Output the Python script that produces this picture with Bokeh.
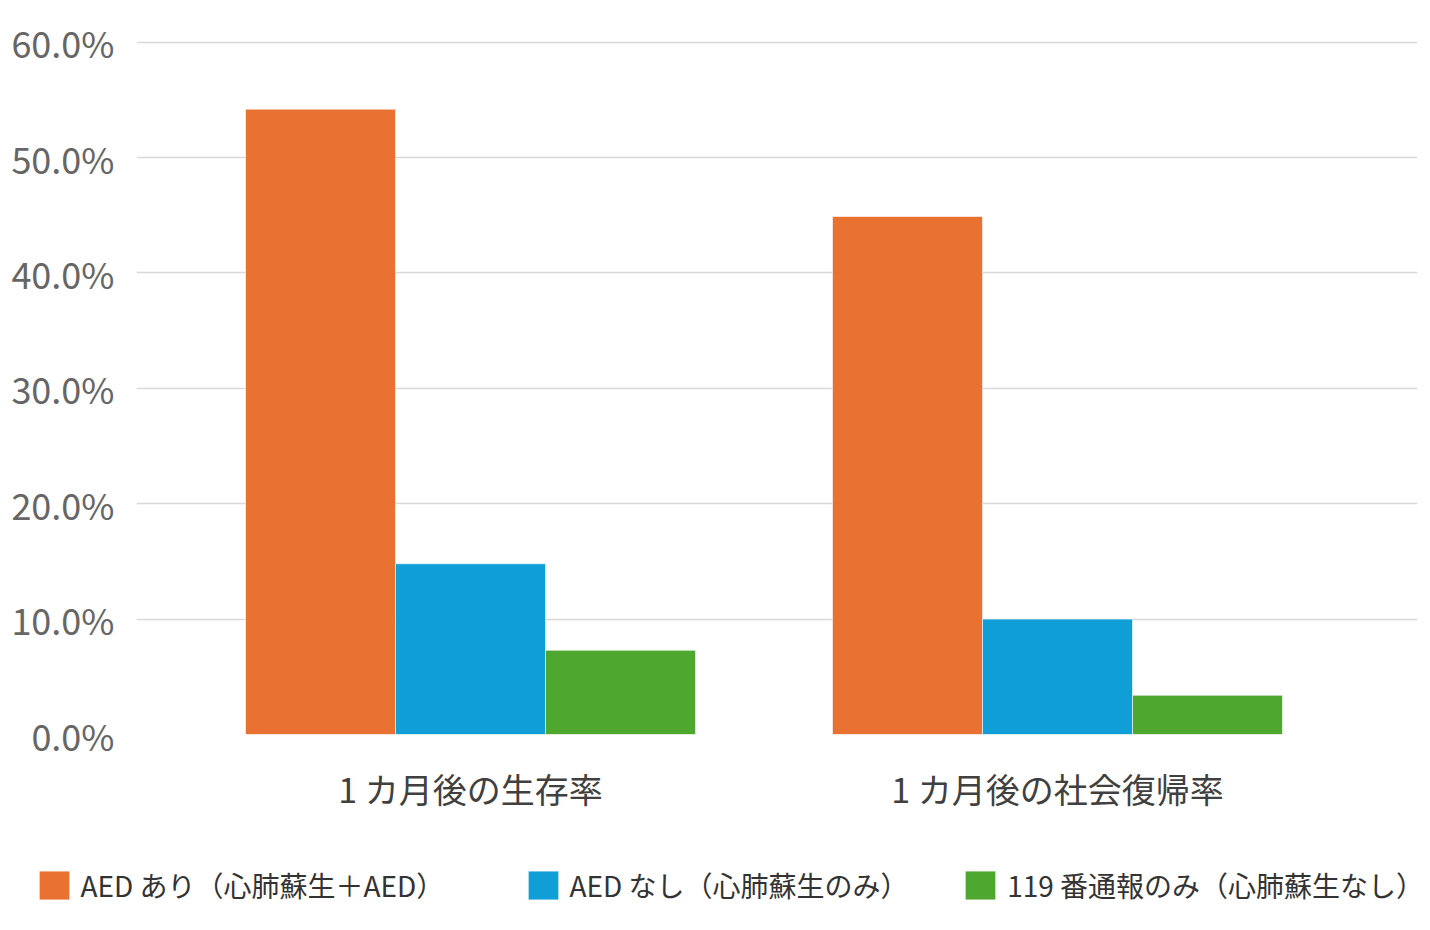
from bokeh.plotting import figure
from bokeh.models import ColumnDataSource, Range1d, FixedTicker, PrintfTickFormatter, Legend, LegendItem
from bokeh.embed import file_html
from bokeh.resources import INLINE

# ---- data ----
categories = ["1 カ月後の生存率", "1 カ月後の社会復帰率"]
series_names = ["AED あり（心肺蘇生＋AED）", "AED なし（心肺蘇生のみ）", "119 番通報のみ（心肺蘇生なし）"]
aed_yes = [54.2, 44.9]
aed_no = [14.8, 10.0]
call_only = [7.3, 3.4]
series_values = [aed_yes, aed_no, call_only]
colors = ["#E97132", "#0F9ED5", "#4EA72E"]
y_ticks = [0, 10, 20, 30, 40, 50, 60]

FONT = "Noto Sans CJK JP"
group_step = 3.913  # 3 bars + gap between groups (in bar widths)

p = figure(width=1422, height=824, output_backend="svg", toolbar_location=None,
           x_range=Range1d(-1.2267, 7.313), y_range=Range1d(0, 60.15),
           min_border_left=136, min_border_right=5, min_border_top=40, min_border_bottom=90)

sources = []
for s, vals in enumerate(series_values):
    xs = [g * group_step + s for g in range(len(categories))]
    src = ColumnDataSource(dict(x=xs, top=vals))
    sources.append(src)
    p.vbar(x="x", top="top", width=1, bottom=0, source=src,
           fill_color=colors[s], line_color="white", line_width=1, line_alpha=0.6)

# axes
p.outline_line_color = None
p.xgrid.grid_line_color = None
p.ygrid.grid_line_color = "#D9D9D9"
p.ygrid.grid_line_width = 1.3
p.ygrid.ticker = FixedTicker(ticks=y_ticks)

p.yaxis.ticker = FixedTicker(ticks=y_ticks)
p.yaxis.formatter = PrintfTickFormatter(format="%.1f%%")
p.yaxis.axis_line_color = None
p.yaxis.major_tick_line_color = None
p.yaxis.minor_tick_line_color = None
p.yaxis.major_label_text_font = FONT
p.yaxis.major_label_text_font_size = "36px"
p.yaxis.major_label_text_color = "#666666"
p.yaxis.major_label_standoff = 16

centres = [g * group_step + 1 for g in range(len(categories))]
p.xaxis.ticker = FixedTicker(ticks=centres)
p.xaxis.major_label_overrides = {c: lab for c, lab in zip(centres, categories)}
p.xaxis.axis_line_color = None
p.xaxis.major_tick_line_color = None
p.xaxis.minor_tick_line_color = None
p.xaxis.major_label_text_font = FONT
p.xaxis.major_label_text_font_size = "34px"
p.xaxis.major_label_text_color = "#404040"
p.xaxis.major_label_standoff = 23

# ---- legend strip (separate figure under the chart; bars lie outside its view) ----
lf = figure(width=1428, height=90, output_backend="svg", toolbar_location=None,
            x_range=Range1d(100, 101), y_range=Range1d(100, 101),
            x_axis_location=None, y_axis_location=None,
            min_border_left=0, min_border_right=0, min_border_top=0, min_border_bottom=0)
lf.outline_line_color = None
lf.grid.visible = False
legend_x = [34.5, 523.5, 961.2]
for s in range(3):
    r = lf.vbar(x="x", top="top", width=1, bottom=0, source=sources[s],
                fill_color=colors[s], line_color="white", line_width=1, line_alpha=0.6)
    lg = Legend(items=[LegendItem(label=series_names[s], renderers=[r])],
                location=(legend_x[s], 9), orientation="horizontal",
                glyph_width=38, glyph_height=36, label_standoff=8,
                padding=0, margin=0, border_line_color=None, background_fill_alpha=0,
                label_text_font=FONT, label_text_font_size="28px", label_text_color="#333333",
                label_height=36)
    lf.add_layout(lg, "center")

open("out.html", "w").write(file_html([p, lf], INLINE))
